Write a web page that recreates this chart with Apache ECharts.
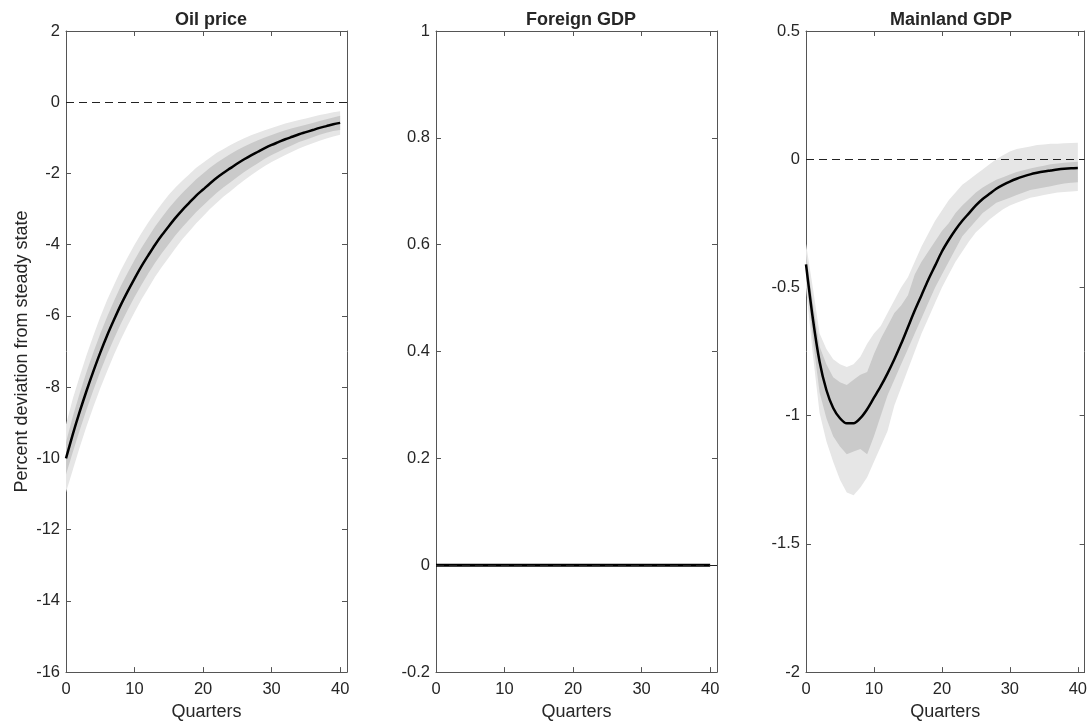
<!DOCTYPE html>
<html>
<head>
<meta charset="utf-8">
<script src="https://cdn.jsdelivr.net/npm/echarts@6/dist/echarts.min.js"></script>
<style>
  html, body { margin: 0; padding: 0; background: #fff; }
  #chart { width: 1090px; height: 726px; }
</style>
</head>
<body>
<div id="chart"></div>
<script>
// quarters after the shock
const quarters = [0,1,2,3,4,5,6,7,8,9,10,11,12,13,14,15,16,17,18,19,20,
  21,22,23,24,25,26,27,28,29,30,31,32,33,34,35,36,37,38,39,40];

const panelTitles = ['Oil price', 'Foreign GDP', 'Mainland GDP'];

// Oil price: median and bands
const oilMedian = [-10.00,-9.32,-8.69,-8.10,-7.55,-7.03,-6.55,-6.11,-5.69,-5.31,-4.95,
  -4.61,-4.30,-4.00,-3.73,-3.48,-3.24,-3.02,-2.82,-2.62,-2.45,
  -2.28,-2.12,-1.98,-1.85,-1.72,-1.60,-1.49,-1.39,-1.29,-1.20,
  -1.12,-1.04,-0.97,-0.90,-0.84,-0.78,-0.72,-0.67,-0.62,-0.58];
const oilInnerHi = [-9.55,-8.82,-8.17,-7.57,-7.02,-6.50,-6.02,-5.58,-5.16,-4.79,-4.43,
  -4.09,-3.79,-3.49,-3.23,-2.98,-2.75,-2.54,-2.35,-2.16,-2.00,
  -1.84,-1.70,-1.57,-1.45,-1.34,-1.24,-1.15,-1.07,-0.99,-0.92,
  -0.85,-0.79,-0.73,-0.68,-0.63,-0.58,-0.53,-0.48,-0.43,-0.38];
const oilInnerLo = [-10.45,-9.82,-9.21,-8.63,-8.08,-7.56,-7.08,-6.64,-6.22,-5.83,-5.47,
  -5.13,-4.81,-4.51,-4.23,-3.98,-3.73,-3.50,-3.29,-3.08,-2.90,
  -2.72,-2.54,-2.39,-2.25,-2.10,-1.96,-1.83,-1.71,-1.59,-1.48,
  -1.39,-1.29,-1.21,-1.12,-1.05,-0.98,-0.91,-0.86,-0.81,-0.78];
const oilOuterHi = [-9.05,-8.32,-7.69,-7.10,-6.55,-6.03,-5.55,-5.13,-4.72,-4.35,-4.00,
  -3.68,-3.38,-3.10,-2.84,-2.60,-2.39,-2.20,-2.02,-1.84,-1.70,
  -1.56,-1.42,-1.31,-1.20,-1.10,-1.01,-0.93,-0.86,-0.79,-0.72,
  -0.66,-0.60,-0.55,-0.50,-0.46,-0.41,-0.36,-0.32,-0.28,-0.25];
const oilOuterLo = [-10.95,-10.32,-9.69,-9.10,-8.55,-8.03,-7.55,-7.09,-6.66,-6.27,-5.90,
  -5.54,-5.22,-4.90,-4.62,-4.36,-4.09,-3.84,-3.62,-3.40,-3.20,
  -3.00,-2.82,-2.65,-2.50,-2.34,-2.19,-2.05,-1.92,-1.79,-1.68,
  -1.58,-1.48,-1.39,-1.30,-1.22,-1.15,-1.08,-1.02,-0.96,-0.91];

// Foreign GDP: no response
const foreignMedian = [0,0,0,0,0,0,0,0,0,0,0,0,0,0,0,0,0,0,0,0,0,
  0,0,0,0,0,0,0,0,0,0,0,0,0,0,0,0,0,0,0,0];

// Mainland GDP: median and bands
const mainMedian = [-0.41,-0.62,-0.79,-0.90,-0.97,-1.01,-1.03,-1.03,-1.01,-0.975,-0.93,
  -0.885,-0.835,-0.78,-0.72,-0.655,-0.59,-0.53,-0.47,-0.415,-0.36,
  -0.315,-0.275,-0.24,-0.21,-0.18,-0.155,-0.135,-0.115,-0.10,-0.087,
  -0.076,-0.067,-0.059,-0.053,-0.048,-0.044,-0.040,-0.037,-0.035,-0.034];
const mainInnerHi = [-0.37,-0.56,-0.73,-0.80,-0.85,-0.87,-0.88,-0.86,-0.84,-0.83,-0.76,
  -0.70,-0.65,-0.60,-0.57,-0.53,-0.45,-0.40,-0.36,-0.32,-0.28,
  -0.25,-0.21,-0.18,-0.155,-0.13,-0.11,-0.095,-0.08,-0.07,-0.06,
  -0.05,-0.043,-0.036,-0.03,-0.025,-0.02,-0.017,-0.014,-0.012,-0.01];
const mainInnerLo = [-0.45,-0.70,-0.91,-1.01,-1.08,-1.12,-1.15,-1.14,-1.13,-1.15,-1.08,
  -1.00,-0.92,-0.86,-0.80,-0.74,-0.68,-0.62,-0.56,-0.50,-0.45,
  -0.40,-0.35,-0.30,-0.27,-0.24,-0.21,-0.19,-0.17,-0.16,-0.15,
  -0.14,-0.13,-0.12,-0.115,-0.11,-0.105,-0.10,-0.095,-0.092,-0.09];
const mainOuterHi = [-0.33,-0.50,-0.68,-0.74,-0.78,-0.80,-0.81,-0.80,-0.77,-0.72,-0.68,
  -0.65,-0.60,-0.55,-0.50,-0.46,-0.40,-0.34,-0.29,-0.24,-0.20,
  -0.16,-0.13,-0.10,-0.08,-0.06,-0.04,-0.02,0.0,0.015,0.03,
  0.04,0.045,0.05,0.055,0.057,0.06,0.06,0.062,0.063,0.064];
const mainOuterLo = [-0.50,-0.76,-0.99,-1.10,-1.18,-1.25,-1.30,-1.31,-1.28,-1.24,-1.18,
  -1.12,-1.06,-0.96,-0.89,-0.82,-0.75,-0.68,-0.62,-0.56,-0.50,
  -0.45,-0.40,-0.36,-0.32,-0.285,-0.26,-0.235,-0.215,-0.195,-0.18,
  -0.17,-0.16,-0.15,-0.145,-0.14,-0.135,-0.13,-0.128,-0.126,-0.124];

// y axis ranges per panel
const yMins = [-16, -0.2, -2];
const yMaxs = [2, 1, 0.5];
const yIntervals = [2, 0.2, 0.5];

const gridLefts = [66, 436, 806];
const axisColor = '#555';
const textColor = '#262626';
const fontFamily = 'Liberation Sans, Arial, sans-serif';
const tickFont = 16.5;
const labelFont = 18;

const chart = echarts.init(document.getElementById('chart'));

const pairs = (ys) => quarters.map((q, i) => [q, ys[i]]);

function bandSeries(p, lo, hi, color) {
  return {
    type: 'custom',
    xAxisIndex: p * 2,
    yAxisIndex: p * 2,
    silent: true,
    data: [[0, 0]],
    renderItem: (params, api) => {
      const pts = [];
      quarters.forEach((q, i) => pts.push(api.coord([q, hi[i]])));
      for (let i = quarters.length - 1; i >= 0; i--) {
        pts.push(api.coord([quarters[i], lo[i]]));
      }
      return { type: 'polygon', shape: { points: pts }, style: { fill: color } };
    }
  };
}

function medianSeries(p, ys, width, zeroLine) {
  const s = {
    type: 'line',
    xAxisIndex: p * 2,
    yAxisIndex: p * 2,
    data: pairs(ys),
    showSymbol: false,
    smooth: 0.3,
    lineStyle: { color: '#000', width: width },
    silent: true
  };
  if (zeroLine) {
    s.markLine = {
      silent: true,
      symbol: 'none',
      label: { show: false },
      lineStyle: { color: '#222', width: 1, type: [8, 5] },
      data: [{ yAxis: 0 }]
    };
  }
  return s;
}

const grids = [], xAxes = [], yAxes = [], titles = [];
for (let p = 0; p < 3; p++) {
  grids.push({ left: gridLefts[p], top: 31, width: 281, height: 647 });
  titles.push({
    text: panelTitles[p],
    left: gridLefts[p] + 140,
    top: 6,
    textAlign: 'center',
    textStyle: { fontSize: labelFont, fontWeight: 'bold', color: textColor, fontFamily: fontFamily }
  });
  const xBase = {
    type: 'value', gridIndex: p, min: 0, max: 41, interval: 10,
    splitLine: { show: false },
    axisLine: { onZero: false, lineStyle: { color: axisColor, width: 1 } },
    axisTick: { inside: true, length: 5, lineStyle: { color: axisColor } }
  };
  xAxes.push(Object.assign({}, xBase, {
    position: 'bottom',
    name: 'Quarters', nameLocation: 'middle', nameGap: 30,
    nameTextStyle: { fontSize: labelFont, color: textColor, fontFamily: fontFamily },
    axisLabel: {
      fontSize: tickFont, color: textColor, fontFamily: fontFamily, margin: 9,
      formatter: (v) => (v % 10 === 0 ? String(v) : '')
    }
  }));
  xAxes.push(Object.assign({}, xBase, { position: 'top', axisLabel: { show: false } }));
  const yBase = {
    type: 'value', gridIndex: p, min: yMins[p], max: yMaxs[p], interval: yIntervals[p],
    splitLine: { show: false },
    axisLine: { onZero: false, lineStyle: { color: axisColor, width: 1 } },
    axisTick: { inside: true, length: 5, lineStyle: { color: axisColor } }
  };
  const yLeft = Object.assign({}, yBase, {
    position: 'left',
    axisLabel: {
      fontSize: tickFont, color: textColor, fontFamily: fontFamily, margin: 6,
      formatter: (v) => String(Math.round(v * 10) / 10)
    }
  });
  if (p === 0) {
    yLeft.name = 'Percent deviation from steady state';
    yLeft.nameLocation = 'middle';
    yLeft.nameGap = 35;
    yLeft.nameTextStyle = { fontSize: labelFont, color: textColor, fontFamily: fontFamily };
  }
  yAxes.push(yLeft);
  yAxes.push(Object.assign({}, yBase, { position: 'right', axisLabel: { show: false } }));
}

const series = [
  bandSeries(0, oilOuterLo, oilOuterHi, '#e6e6e6'),
  bandSeries(0, oilInnerLo, oilInnerHi, '#cacaca'),
  medianSeries(0, oilMedian, 2.5, true),
  medianSeries(1, foreignMedian, 3, true),
  bandSeries(2, mainOuterLo, mainOuterHi, '#e6e6e6'),
  bandSeries(2, mainInnerLo, mainInnerHi, '#cacaca'),
  medianSeries(2, mainMedian, 2.5, true)
];

chart.setOption({
  animation: false,
  backgroundColor: '#fff',
  textStyle: { fontFamily: fontFamily },
  title: titles,
  grid: grids,
  xAxis: xAxes,
  yAxis: yAxes,
  series: series
});
</script>
</body>
</html>
